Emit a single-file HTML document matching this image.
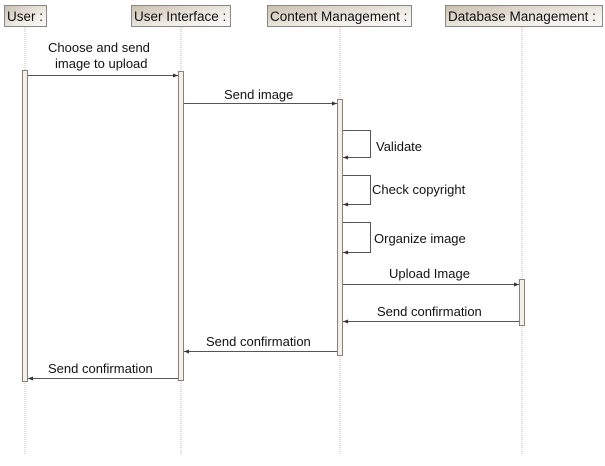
<!DOCTYPE html>
<html><head><style>
body{margin:0;width:605px;height:461px;background:#fff;overflow:hidden}
text{font-family:"Liberation Sans",sans-serif;font-size:13px;fill:#111}
.h{font-size:13.5px}
</style></head><body>
<svg width="605" height="461" xmlns="http://www.w3.org/2000/svg">
<defs>
<linearGradient id="g" x1="0" y1="0" x2="1" y2="1"><stop offset="0" stop-color="#c9bfb0"/><stop offset="0.6" stop-color="#efebe4"/><stop offset="1" stop-color="#fbfaf8"/></linearGradient>
<marker id="a" markerWidth="6" markerHeight="6" refX="5" refY="3" orient="auto"><path d="M0,1 L5,3 L0,5z" fill="#333"/></marker>
</defs>
<g stroke="#bbb" stroke-dasharray="1,1">
<line x1="25" y1="27" x2="25" y2="455"/>
<line x1="181" y1="27" x2="181" y2="455"/>
<line x1="340" y1="27" x2="340" y2="455"/>
<line x1="522" y1="27" x2="522" y2="455"/>
</g>
<g stroke="#888" fill="url(#g)">
<rect x="4.5" y="5.5" width="42" height="21"/>
<rect x="131.5" y="5.5" width="99" height="21"/>
<rect x="267.5" y="5.5" width="144" height="21"/>
<rect x="445.5" y="5.5" width="157" height="21"/>
</g>
<text class="h" x="7" y="21">User :</text>
<text class="h" x="134" y="21">User Interface :</text>
<text class="h" x="270" y="21">Content Management :</text>
<text class="h" x="448" y="21">Database Management :</text>
<g stroke="#8a8076" fill="#f3f0ec">
<rect x="22.5" y="70.5" width="5" height="311"/>
<rect x="178.5" y="71.5" width="5" height="309"/>
<rect x="337.5" y="99.5" width="5" height="256"/>
<rect x="519.5" y="279.5" width="5" height="46"/>
</g>
<g stroke="#555" fill="none" marker-end="url(#a)">
<line x1="28" y1="75.5" x2="178" y2="75.5"/>
<line x1="184" y1="103.5" x2="337" y2="103.5"/>
<path d="M343,130.5 H370.5 V157.5 H343"/>
<path d="M343,175.5 H370.5 V204.5 H343"/>
<path d="M343,222.5 H370.5 V252.5 H343"/>
<line x1="343" y1="284.5" x2="519" y2="284.5"/>
<line x1="519" y1="321.5" x2="343" y2="321.5"/>
<line x1="337" y1="351.5" x2="184" y2="351.5"/>
<line x1="178" y1="378.5" x2="28" y2="378.5"/>
</g>
<text x="48" y="52">Choose and send</text>
<text x="55" y="68">image to upload</text>
<text x="224" y="99">Send image</text>
<text x="376" y="151">Validate</text>
<text x="372" y="194">Check copyright</text>
<text x="374" y="243">Organize image</text>
<text x="389" y="278">Upload Image</text>
<text x="377" y="316">Send confirmation</text>
<text x="206" y="346">Send confirmation</text>
<text x="48" y="373">Send confirmation</text>
</svg>
</body></html>
